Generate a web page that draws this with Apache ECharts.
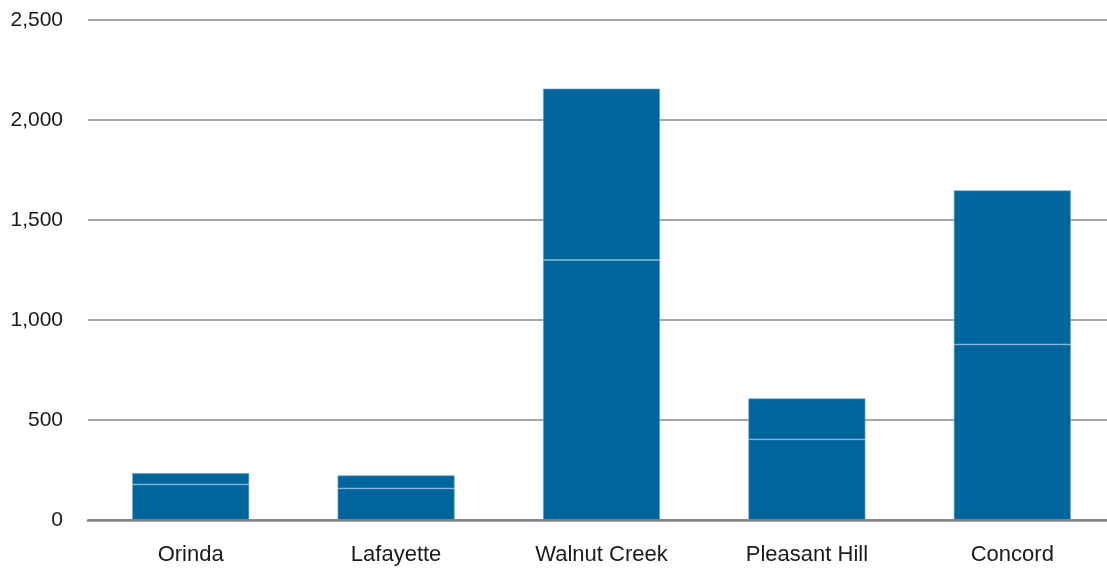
<!DOCTYPE html>
<html>
<head>
<meta charset="utf-8">
<script src="https://cdn.jsdelivr.net/npm/echarts@6/dist/echarts.min.js"></script>
<style>
  html, body { margin: 0; padding: 0; background: #fff; }
  #chart { width: 1107px; height: 569px; }
</style>
</head>
<body>
<div id="chart"></div>
<script>
// Cities along the corridor
const cities = ['Orinda', 'Lafayette', 'Walnut Creek', 'Pleasant Hill', 'Concord'];
// Lower and upper stacked segments
const baseValues = [178, 158, 1300, 403, 878];
const topValues = [57, 65, 857, 205, 770];
// Value axis ticks
const yTicks = [0, 500, 1000, 1500, 2000, 2500];

const barColor = '#00659B';
const edgeColor = 'rgba(100,160,205,0.8)';
const font = 'Liberation Sans, Arial, sans-serif';

const chart = echarts.init(document.getElementById('chart'));
chart.setOption({
  animation: false,
  // plot area runs slightly past the right edge of the canvas
  grid: { left: 88, width: 1027, top: 20, height: 500, outerBoundsMode: 'none' },
  xAxis: {
    type: 'category',
    data: cities,
    axisLine: { show: true, lineStyle: { color: '#808080', width: 2.5 } },
    axisTick: { show: false },
    axisLabel: { color: '#1a1a1a', fontSize: 22, fontFamily: font, margin: 24 }
  },
  yAxis: {
    type: 'value',
    min: yTicks[0],
    max: yTicks[yTicks.length - 1],
    interval: 500,
    axisLine: { show: false },
    axisTick: { show: false },
    splitLine: { lineStyle: { color: '#888888', width: 1.5 } },
    axisLabel: {
      color: '#1a1a1a', fontSize: 21, fontFamily: font, margin: 25,
      formatter: v => v.toLocaleString('en-US')
    }
  },
  series: [
    {
      type: 'bar', stack: 'total', data: baseValues, barWidth: '57%',
      itemStyle: { color: barColor, borderColor: edgeColor, borderWidth: 0.8 }
    },
    {
      type: 'bar', stack: 'total', data: topValues, barWidth: '57%',
      itemStyle: { color: barColor, borderColor: edgeColor, borderWidth: 0.8 }
    }
  ]
});
</script>
</body>
</html>
